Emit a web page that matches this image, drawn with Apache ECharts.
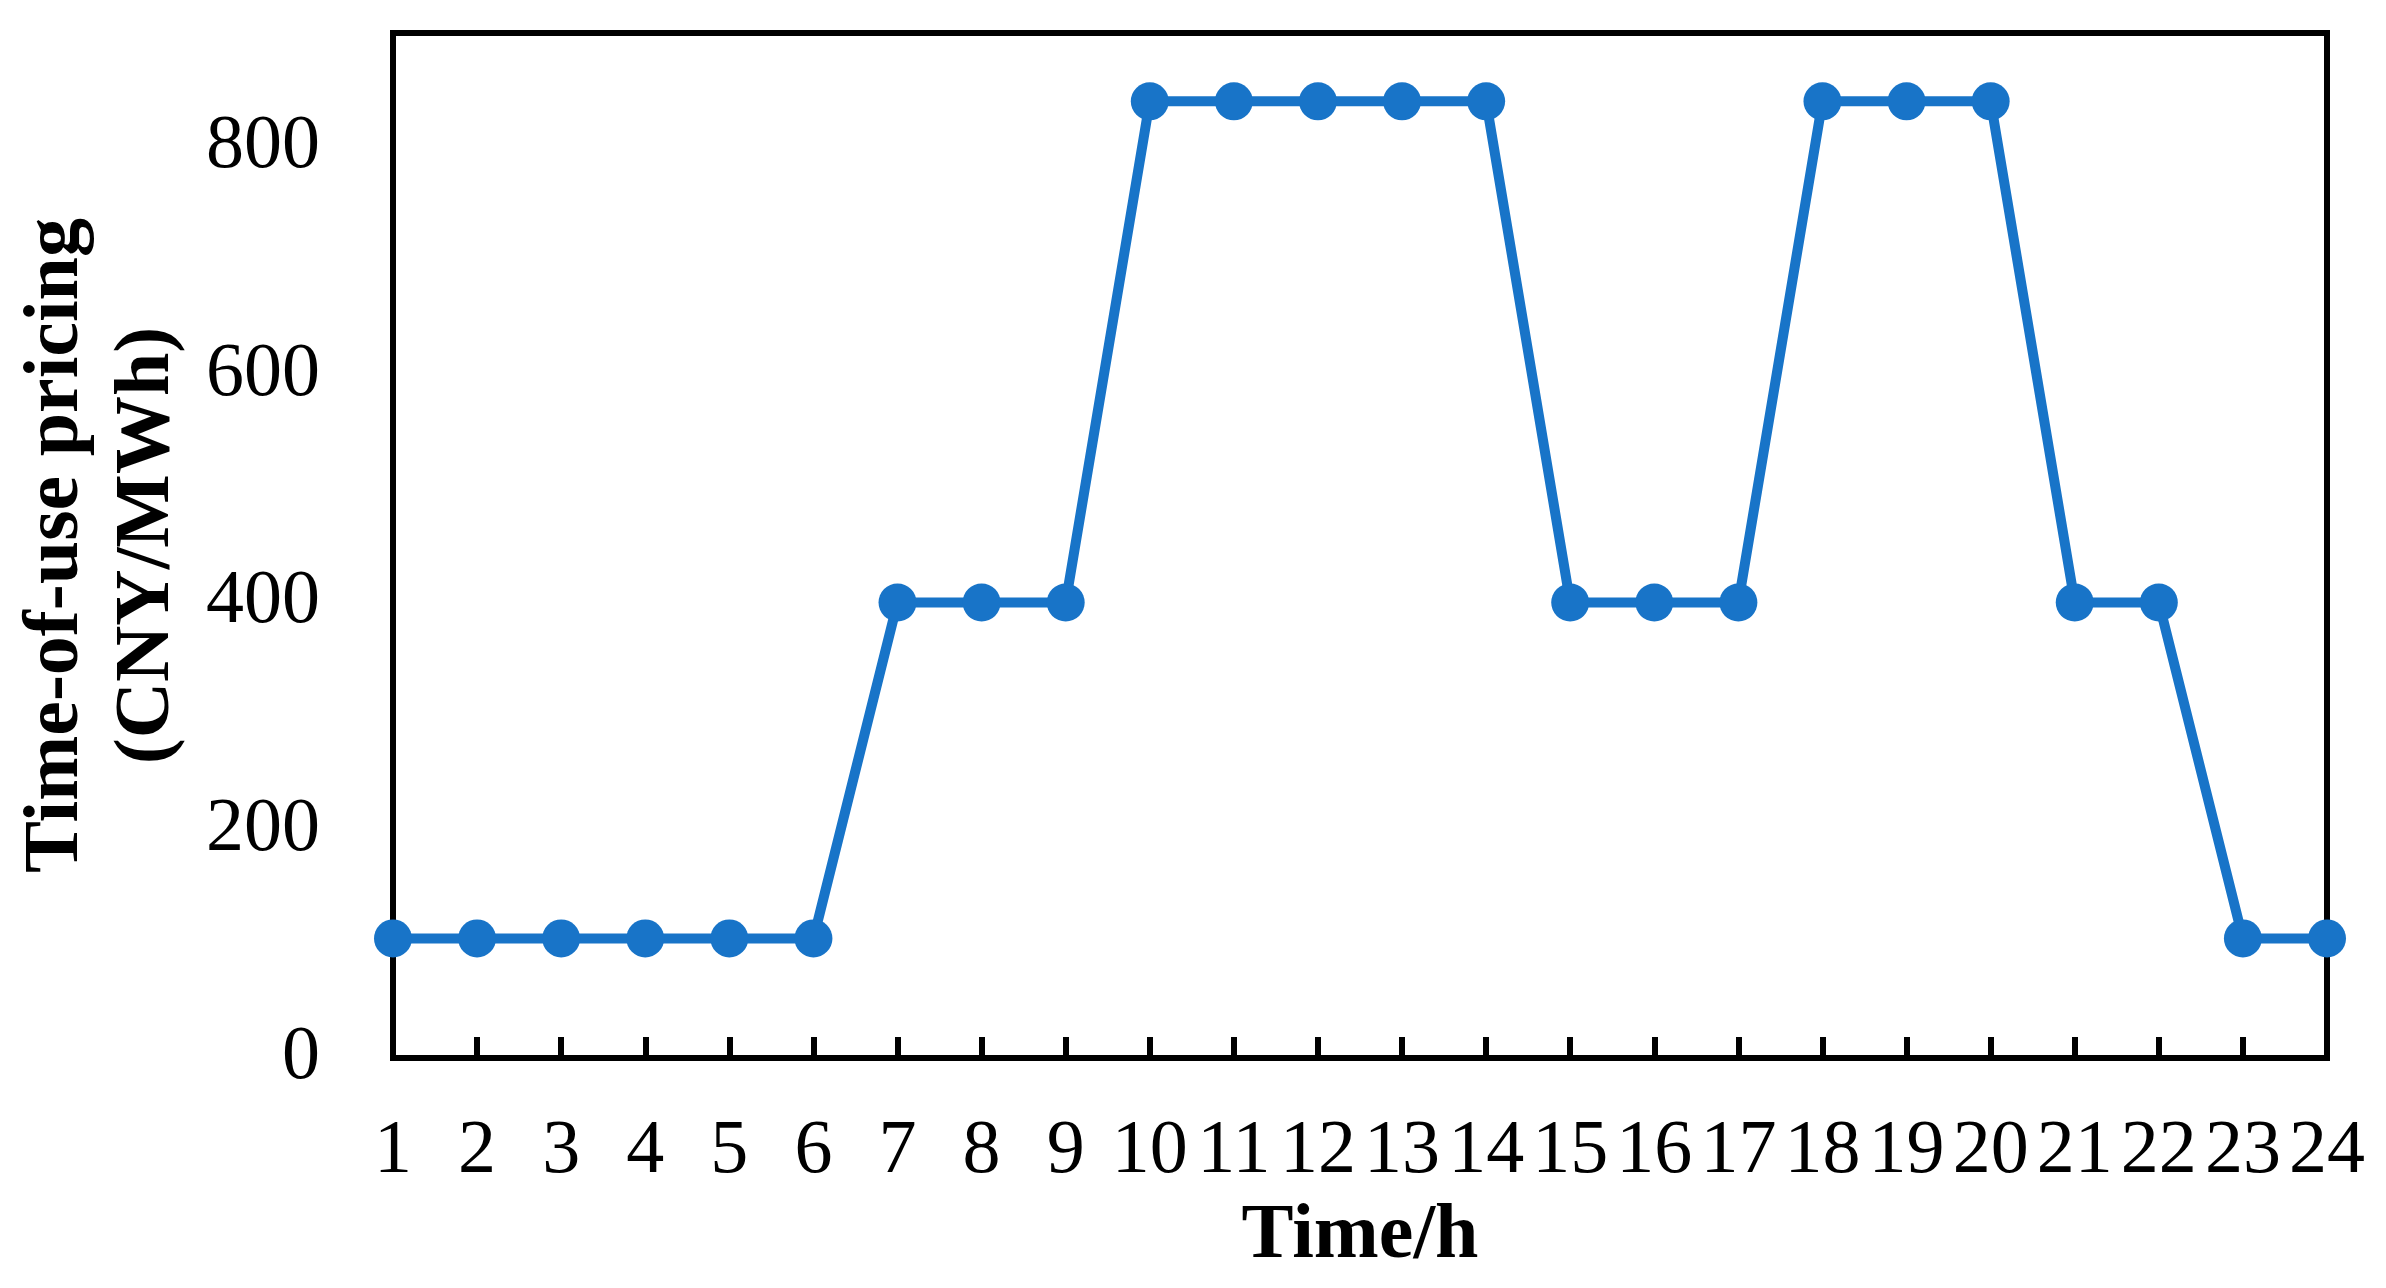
<!DOCTYPE html>
<html>
<head>
<meta charset="utf-8">
<script src="https://cdn.jsdelivr.net/npm/echarts@6/dist/echarts.min.js"></script>
<style>
html, body { margin: 0; padding: 0; background: #fff; }
#chart { width: 2386px; height: 1288px; }
</style>
</head>
<body>
<div id="chart"></div>
<script>
// 时段 1-24 h
var hours = ['1','2','3','4','5','6','7','8','9','10','11','12','13','14','15','16','17','18','19','20','21','22','23','24'];
// 分时电价 (CNY/MWh)
var prices = [105,105,105,105,105,105,400,400,400,840,840,840,840,840,400,400,400,840,840,840,400,400,105,105];
var yTicks = [0, 200, 400, 600, 800];

var myChart = echarts.init(document.getElementById('chart'));
var fontFam = '"Liberation Serif", "Times New Roman", serif';

var option = {
    animation: false,
    grid: {
        left: 393, right: 59, top: 33, bottom: 230,
        show: true,
        borderColor: '#000',
        borderWidth: 6,
        backgroundColor: 'transparent'
    },
    xAxis: {
        type: 'category',
        data: hours,
        boundaryGap: false,
        name: 'Time/h',
        nameLocation: 'middle',
        nameGap: 140,
        nameTextStyle: { fontFamily: fontFam, fontWeight: 'bold', fontSize: 78, color: '#000' },
        axisLine: { lineStyle: { color: '#000', width: 6 } },
        axisTick: { inside: true, length: 21, lineStyle: { color: '#000', width: 6 }, alignWithLabel: true },
        axisLabel: { fontFamily: fontFam, fontSize: 76, color: '#000', margin: 56, interval: 0 },
        splitLine: { show: false }
    },
    yAxis: {
        type: 'value',
        min: 0,
        max: 900,
        interval: 200,
        name: 'Time-of-use pricing\n(CNY/MWh)',
        nameLocation: 'middle',
        nameGap: 200,
        nameTextStyle: { fontFamily: fontFam, fontWeight: 'bold', fontSize: 78, color: '#000', lineHeight: 91 },
        axisLine: { lineStyle: { color: '#000', width: 6 } },
        axisTick: { inside: true, length: 21, lineStyle: { color: '#000', width: 6 } },
        axisLabel: {
            fontFamily: fontFam, fontSize: 76, color: '#000', margin: 73,
            formatter: function (v) { return yTicks.indexOf(v) >= 0 ? v : ''; }
        },
        splitLine: { show: false }
    },
    series: [{
        type: 'line',
        data: prices,
        symbol: 'circle',
        symbolSize: 38,
        itemStyle: { color: '#1874C8' },
        lineStyle: { color: '#1874C8', width: 10 }
    }]
};

myChart.setOption(option);
</script>
</body>
</html>
